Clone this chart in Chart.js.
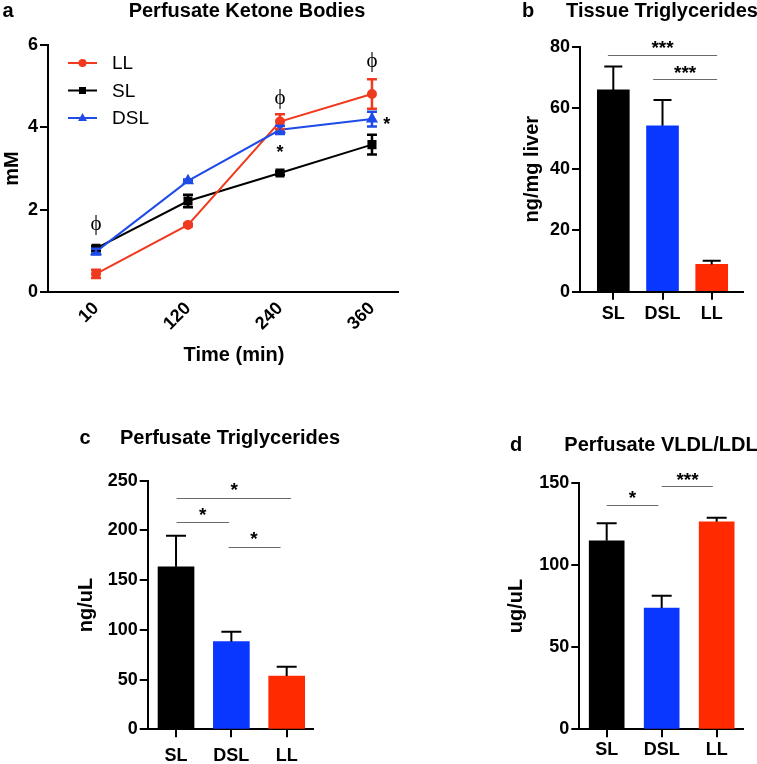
<!DOCTYPE html>
<html><head><meta charset="utf-8">
<script src="https://cdn.jsdelivr.net/npm/chart.js@4"></script>
<style>
html,body{margin:0;padding:0;background:#fff;}
body{width:757px;height:764px;position:relative;overflow:hidden;}
canvas{position:absolute;}
</style></head><body>
<canvas id="ca" width="420" height="370" style="left:0;top:0"></canvas>
<canvas id="cb" width="317" height="330" style="left:440px;top:0"></canvas>
<canvas id="cc" width="400" height="394" style="left:0;top:370px"></canvas>
<canvas id="cd" width="317" height="364" style="left:440px;top:400px"></canvas>
<script>
// ---------- data ----------
const timeLabels = ['10', '120', '240', '360'];
const llKetone = [0.44, 1.63, 4.14, 4.81];
const llKetoneErr = [0.10, 0.03, 0.18, 0.36];
const slKetone = [1.06, 2.21, 2.89, 3.58];
const slKetoneErr = [0.05, 0.15, 0.04, 0.24];
const dslKetone = [0.98, 2.70, 3.94, 4.20];
const dslKetoneErr = [0.07, 0.03, 0.10, 0.18];

const groups = ['SL', 'DSL', 'LL'];
const tissueTG = [65.9, 54.2, 8.9];
const tissueTGErr = [7.6, 8.4, 1.2];
const perfTG = [163.5, 88.1, 53.6];
const perfTGErr = [31.1, 10.0, 9.3];
const perfVLDL = [114.7, 73.8, 126.2];
const perfVLDLErr = [10.6, 7.4, 2.5];

// significance marks (data coordinates)
const sigTissue = [
  {from: -0.11, to: 2.11, y: 77.3, label: '***', lx: 1.0, ly: 81.2},
  {from: 0.81, to: 2.11, y: 69.4, label: '***', lx: 1.46, ly: 73.0}
];
const sigPerfTG = [
  {from: 0.01, to: 2.08, y: 232.8, label: '*', lx: 1.05, ly: 245.6},
  {from: 0.01, to: 0.96, y: 208.1, label: '*', lx: 0.48, ly: 220.4},
  {from: 0.95, to: 1.89, y: 183.0, label: '*', lx: 1.41, ly: 196.0}
];
const sigVLDL = [
  {from: 0.0, to: 0.94, y: 136.4, label: '*', lx: 0.47, ly: 143.5},
  {from: 1.0, to: 1.93, y: 147.9, label: '***', lx: 1.47, ly: 154.6}
];
const ketoneMarks = [
  {x: 0, y: 1.63, text: 'ϕ', serif: true},
  {x: 2, y: 4.71, text: 'ϕ', serif: true},
  {x: 3, y: 5.59, text: 'ϕ', serif: true},
  {x: 2, y: 3.50, text: '*'},
  {x: 3.16, y: 4.18, text: '*'}
];

// ---------- styles ----------
const FONT = "'Liberation Sans', Arial, Helvetica, sans-serif";
const RED_L = '#F03A1F', BLUE_L = '#1F4BE8', BLACK = '#000000';
const RED_B = '#FF2A00', BLUE_B = '#0A37FF';
const tickFont = {family: FONT, size: 18, weight: 'bold'};
const titleFont = {family: FONT, size: 20, weight: 'bold'};

function drawStar(ctx, text, x, y, size) {
  ctx.font = 'bold ' + size + 'px ' + FONT;
  ctx.textAlign = 'center';
  ctx.textBaseline = 'alphabetic';
  ctx.fillText(text, x, y + 0.57 * size);
}

const figPlugin = {
  id: 'fig',
  afterDatasetsDraw(chart, args, o) {
    const ctx = chart.ctx, xs = chart.scales.x, ys = chart.scales.y;
    ctx.save();
    // error bars
    (o.errors || []).forEach(e => {
      ctx.strokeStyle = e.color; ctx.lineWidth = e.lw || 2;
      e.values.forEach((v, i) => {
        const err = e.err[i];
        const x = xs.getPixelForValue(i);
        const yTop = ys.getPixelForValue(v + err);
        const yBot = ys.getPixelForValue(e.both ? v - err : v);
        ctx.beginPath();
        ctx.moveTo(x, yTop); ctx.lineTo(x, yBot);
        ctx.moveTo(x - e.cap / 2, yTop); ctx.lineTo(x + e.cap / 2, yTop);
        if (e.both) { ctx.moveTo(x - e.cap / 2, yBot); ctx.lineTo(x + e.cap / 2, yBot); }
        ctx.stroke();
      });
    });
    // significance lines
    ctx.fillStyle = '#000';
    (o.sig || []).forEach(s => {
      ctx.strokeStyle = '#6a6a6a'; ctx.lineWidth = 1.2;
      const y = Math.round(ys.getPixelForValue(s.y)) + 0.5;
      ctx.beginPath();
      ctx.moveTo(xs.getPixelForValue(s.from), y);
      ctx.lineTo(xs.getPixelForValue(s.to), y);
      ctx.stroke();
      drawStar(ctx, s.label, xs.getPixelForValue(s.lx), ys.getPixelForValue(s.ly), 19);
    });
    // marks (phi / star)
    (o.marks || []).forEach(m => {
      const x = xs.getPixelForValue(m.x), y = ys.getPixelForValue(m.y);
      if (m.serif) {
        ctx.font = "21px 'Liberation Serif', 'DejaVu Serif', serif";
        ctx.textAlign = 'center'; ctx.textBaseline = 'middle';
        ctx.fillText(m.text, x, y);
      } else {
        drawStar(ctx, m.text, x, y, 18);
      }
    });
    // legend
    (o.legend || []).forEach((l, i) => {
      const y = o.legendY + i * o.legendGap;
      ctx.strokeStyle = l.color; ctx.fillStyle = l.color; ctx.lineWidth = 2;
      ctx.beginPath(); ctx.moveTo(o.legendX, y); ctx.lineTo(o.legendX + 29, y); ctx.stroke();
      const cx = o.legendX + 14.5;
      ctx.beginPath();
      if (l.style === 'circle') ctx.arc(cx, y, 4, 0, Math.PI * 2);
      else if (l.style === 'rect') ctx.rect(cx - 3.5, y - 3.5, 7, 7);
      else { ctx.moveTo(cx, y - 5); ctx.lineTo(cx + 4.5, y + 3); ctx.lineTo(cx - 4.5, y + 3); ctx.closePath(); }
      ctx.fill();
      ctx.fillStyle = '#000';
      ctx.font = '19px ' + FONT;
      ctx.textAlign = 'left'; ctx.textBaseline = 'middle';
      ctx.fillText(l.label, o.legendX + 44, y + 1);
    });
    // x title (custom centered)
    if (o.xTitle) {
      ctx.fillStyle = '#000';
      ctx.font = 'bold 20px ' + FONT;
      ctx.textAlign = 'center'; ctx.textBaseline = 'middle';
      ctx.fillText(o.xTitle.text, xs.getPixelForValue(o.xTitle.at), o.xTitle.y);
    }
    // panel letter and title
    ctx.fillStyle = '#000';
    ctx.font = 'bold 20px ' + FONT;
    ctx.textBaseline = 'middle';
    ctx.textAlign = 'center';
    ctx.fillText(o.letter, o.letterX, o.headY);
    ctx.fillText(o.title, o.titleX, o.headY);
    ctx.restore();
  }
};

function yScale(max, step, width, title) {
  return {
    min: 0, max: max,
    afterFit: s => { s.width = width; },
    ticks: {stepSize: step, font: tickFont, color: '#000', padding: 2},
    title: {display: true, text: title, font: titleFont, color: '#000', padding: 0},
    grid: {drawOnChartArea: false, drawTicks: true, tickLength: 8, color: '#000', lineWidth: 2},
    border: {display: true, color: '#000', width: 2}
  };
}

function xCat(labels, min, max, height, pad, drawTicks, rot) {
  return {
    type: 'linear', min: min, max: max, offset: false,
    afterBuildTicks: s => { s.ticks = labels.map((_, i) => ({value: i})); },
    afterFit: s => { s.height = height; },
    ticks: {callback: v => labels[v], font: tickFont, color: '#000', padding: pad,
            minRotation: rot, maxRotation: rot, autoSkip: false},
    grid: {offset: false, drawOnChartArea: false, drawTicks: drawTicks, tickLength: 8, color: '#000', lineWidth: 2},
    border: {display: true, color: '#000', width: 2}
  };
}

const base = {responsive: false, animation: false, events: []};

// ---------- panel a ----------
new Chart(document.getElementById('ca'), {
  type: 'line',
  data: {datasets: [
    {label: 'LL', data: llKetone.map((y, i) => ({x: i, y})), borderColor: RED_L, backgroundColor: RED_L,
     pointStyle: 'circle', pointRadius: 4, borderWidth: 2, order: 1},
    {label: 'SL', data: slKetone.map((y, i) => ({x: i, y})), borderColor: BLACK, backgroundColor: BLACK,
     pointStyle: 'rect', pointRadius: 5, borderWidth: 2, order: 2},
    {label: 'DSL', data: dslKetone.map((y, i) => ({x: i, y})), borderColor: BLUE_L, backgroundColor: BLUE_L,
     pointStyle: 'triangle', pointRadius: 5, borderWidth: 2, order: 0}
  ]},
  options: Object.assign({}, base, {
    layout: {padding: {left: 0, right: 22, top: 45, bottom: 0}},
    plugins: {legend: {display: false}, tooltip: {enabled: false},
      fig: {
        letter: 'a', letterX: 8, title: 'Perfusate Ketone Bodies', titleX: 247, headY: 11,
        errors: [
          {values: slKetone, err: slKetoneErr, color: BLACK, cap: 10, both: true, lw: 2.5},
          {values: llKetone, err: llKetoneErr, color: RED_L, cap: 10, both: true, lw: 2.5},
          {values: dslKetone, err: dslKetoneErr, color: BLUE_L, cap: 10, both: true, lw: 2.5}
        ],
        marks: ketoneMarks,
        legend: [{label: 'LL', color: RED_L, style: 'circle'}, {label: 'SL', color: BLACK, style: 'rect'},
                 {label: 'DSL', color: BLUE_L, style: 'triangle'}],
        legendX: 68, legendY: 63, legendGap: 27.5,
        xTitle: {text: 'Time (min)', at: 1.5, y: 355}
      }},
    scales: {
      x: xCat(timeLabels, -0.522, 3.283, 78, 6, false, 45),
      y: yScale(6, 2, 48, 'mM')
    }
  }),
  plugins: [figPlugin]
});

function barChart(id, values, errs, sig, o) {
  new Chart(document.getElementById(id), {
    type: 'bar',
    data: {datasets: [{data: values.map((y, i) => ({x: i, y})), backgroundColor: [BLACK, BLUE_B, RED_B],
                       barThickness: o.bw, borderWidth: 0}]},
    options: Object.assign({}, base, {
      layout: {padding: o.padding},
      plugins: {legend: {display: false}, tooltip: {enabled: false},
        fig: {letter: o.letter, letterX: o.letterX, title: o.title, titleX: o.titleX, headY: o.headY,
              errors: [{values: values, err: errs, color: BLACK, cap: o.cap, both: false, lw: 2}],
              sig: sig}},
      scales: {
        x: xCat(groups, o.xmin, o.xmax, o.xh, o.xpad, true, 0),
        y: yScale(o.ymax, o.ystep, o.yw, o.ytitle)
      }
    }),
    plugins: [figPlugin]
  });
}

// ---------- panel b ----------
barChart('cb', tissueTG, tissueTGErr, sigTissue, {
  bw: 32, cap: 18, padding: {left: 80, right: 14, top: 46.7, bottom: 0},
  letter: 'b', letterX: 88, title: 'Tissue Triglycerides', titleX: 222, headY: 11,
  xmin: -0.677, xmax: 2.636, xh: 38.3, xpad: 4, ymax: 80, ystep: 20, yw: 60, ytitle: 'ng/mg liver'
});
// ---------- panel c ----------
barChart('cc', perfTG, perfTGErr, sigPerfTG, {
  bw: 36, cap: 20, padding: {left: 74, right: 86.7, top: 110.7, bottom: 0},
  letter: 'c', letterX: 85, title: 'Perfusate Triglycerides', titleX: 230, headY: 68,
  xmin: -0.512, xmax: 2.481, xh: 34.7, xpad: 8, ymax: 250, ystep: 50, yw: 73.7, ytitle: 'ng/uL'
});
// ---------- panel d ----------
barChart('cd', perfVLDL, perfVLDLErr, sigVLDL, {
  bw: 35, cap: 20, padding: {left: 64, right: 13.7, top: 82.7, bottom: 0},
  letter: 'd', letterX: 76, title: 'Perfusate VLDL/LDL', titleX: 221, headY: 45,
  xmin: -0.498, xmax: 2.484, xh: 34.7, xpad: 2, ymax: 150, ystep: 50, yw: 75.3, ytitle: 'ug/uL'
});
</script>
</body></html>
